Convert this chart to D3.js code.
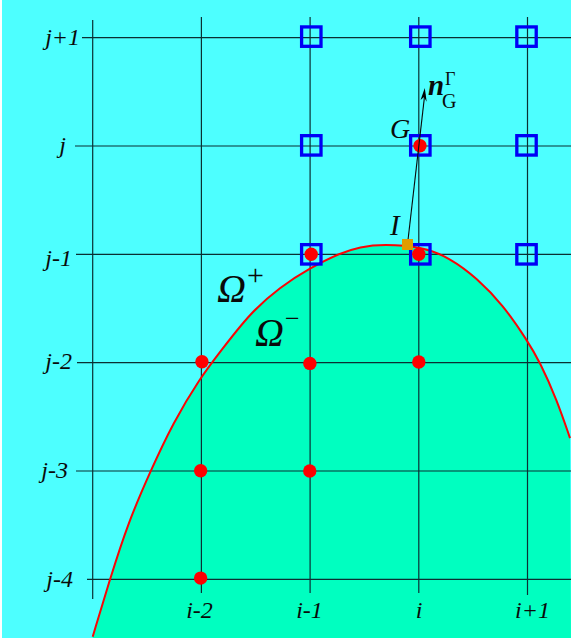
<!DOCTYPE html>
<html><head><meta charset="utf-8">
<script src="https://cdn.jsdelivr.net/npm/d3@7"></script>
<style>html,body{margin:0;padding:0;background:#fff}svg{display:block}
text{font-family:"Liberation Serif",serif;fill:#0a0a0a}</style></head>
<body><svg id="c" width="571" height="643"></svg>
<script>
// Grid units: column k is relative to i, row r is relative to j
const colKeys = [-2,-1,0,1];
const colLabels = ["i-2","i-1","i","i+1"];
const rowKeys = [1,0,-1,-2,-3,-4];
const rowLabels = ["j+1","j","j-1","j-2","j-3","j-4"];
const leftAxisCol = -3;
const squareCols = [-0.989,0.014,0.991];
const squareRows = [1.01,0.006,-1];
const dotsK = [0.011,0,-0.99,-1.002,-1.995,0,-2.007,-1.003,-2.007];
const dotsR = [0.003,-0.999,-0.999,-2.007,-1.992,-1.994,-2.998,-3,-3.989];
const curveK = [-3,-2.841,-2.675,-2.473,-2.262,-2.013,-1.829,-1.553,-1.277,-1.001,-0.725,-0.541,-0.329,0.039,0.287,0.535,0.775,0.995,1.115,1.271,1.391];
const curveR = [-4.53,-3.997,-3.48,-3.01,-2.557,-2.142,-1.902,-1.542,-1.302,-1.126,-0.988,-0.932,-0.905,-0.932,-1.034,-1.219,-1.468,-1.791,-1.994,-2.345,-2.696];
const interfaceK = -0.104, interfaceR = -0.909;
const normalEndK = 0.055, normalEndR = 0.535;

const W=571;
const x=d3.scaleLinear().domain([-3,1]).range([92.7,527.5]);
const y=d3.scaleLinear().domain([1,-4]).range([37.7,579.3]);
const svg=d3.select("#c");
svg.append("rect").attr("x",2).attr("y",0).attr("width",W-2).attr("height",638).attr("fill","#4dffff");
svg.append("defs").append("clipPath").attr("id","clip").append("rect")
  .attr("x",2).attr("y",0).attr("width",W-2).attr("height",638);
const g=svg.append("g").attr("clip-path","url(#clip)");
const pts=curveK.map((k,n)=>[k,curveR[n]]);
const gen=d3.line().x(d=>x(d[0])).y(d=>y(d[1])).curve(d3.curveBasis);
g.append("path").attr("d",gen(pts)+`L${W},638L${x(curveK[0])},638Z`).attr("fill","#00ffc0");

const lineCol="#0b2f33";
const rowStart={"1":82,"0":75,"-1":76,"-2":77,"-3":76,"-4":87};
const colEnd={"-2":593,"-1":593,"0":593,"1":595};
g.selectAll("line.h").data(rowKeys).join("line").attr("class","h")
  .attr("x1",r=>rowStart[r]).attr("x2",W).attr("y1",y).attr("y2",y)
  .attr("stroke",lineCol).attr("stroke-width",1.2);
g.selectAll("line.v").data(colKeys).join("line").attr("class","v")
  .attr("x1",x).attr("x2",x).attr("y1",17).attr("y2",k=>colEnd[k])
  .attr("stroke",lineCol).attr("stroke-width",1.2);
g.append("line").attr("x1",x(leftAxisCol)).attr("x2",x(leftAxisCol)).attr("y1",20).attr("y2",599)
  .attr("stroke",lineCol).attr("stroke-width",1.2);

g.append("path").attr("d",gen(pts)).attr("fill","none").attr("stroke","#fa0505").attr("stroke-width",2);

const sq=squareRows.flatMap(r=>squareCols.map(k=>[k,r]));
g.selectAll("rect.s").data(sq).join("rect").attr("class","s")
  .attr("x",d=>x(d[0])-9.7).attr("y",d=>y(d[1])-9.7).attr("width",19.4).attr("height",19.4)
  .attr("fill","none").attr("stroke","#0000f5").attr("stroke-width",3.3);
g.selectAll("circle").data(dotsK.map((k,n)=>[k,dotsR[n]])).join("circle")
  .attr("cx",d=>x(d[0])).attr("cy",d=>y(d[1])).attr("r",6.7).attr("fill","#ff0000");

// Normal arrow
g.append("line").attr("x1",x(interfaceK)).attr("y1",y(interfaceR))
  .attr("x2",x(normalEndK)).attr("y2",y(normalEndR)+6).attr("stroke","#0a0a0a").attr("stroke-width",1.1);
const ex=x(normalEndK),ey=y(normalEndR);
g.append("path").attr("d",`M${ex},${ey}L${ex-4.2},${ey+12}L${ex-0.8},${ey+9}L${ex+1.9},${ey+13.7}Z`).attr("fill","#000");
g.append("rect").attr("x",x(interfaceK)-5.5).attr("y",y(interfaceR)-5.5).attr("width",11).attr("height",11).attr("fill","#e09c00");

function t(px,py,s,size,opts={}){
  return svg.append("text").attr("x",px).attr("y",py).text(s).attr("font-size",size)
    .attr("font-style",opts.style||"italic").attr("font-weight",opts.weight||"normal")
    .attr("text-anchor",opts.anchor||"start");
}
const rowLabelEnd=[80,66,72,72,68,73];
const rowLabelY=[45,153,266,369,478,587];
rowLabels.forEach((s,n)=>t(rowLabelEnd[n],rowLabelY[n],s,24,{anchor:"end"}));
const colLabelX=[199.5,309.5,419,532.5];
colLabels.forEach((s,n)=>t(colLabelX[n],618,s,24,{anchor:"middle"}));

t(390,138,"G",28);
t(390,235,"I",29);
t(428,95,"n",29,{weight:"bold"});
t(442,108,"G",20,{style:"normal"});
t(445,85,"Γ",18,{style:"normal"});
t(217,302,"Ω",40);
t(247,285,"+",30,{style:"normal"});
t(255,346,"Ω",40);
t(285,327,"−",26,{style:"normal"});
</script></body></html>
